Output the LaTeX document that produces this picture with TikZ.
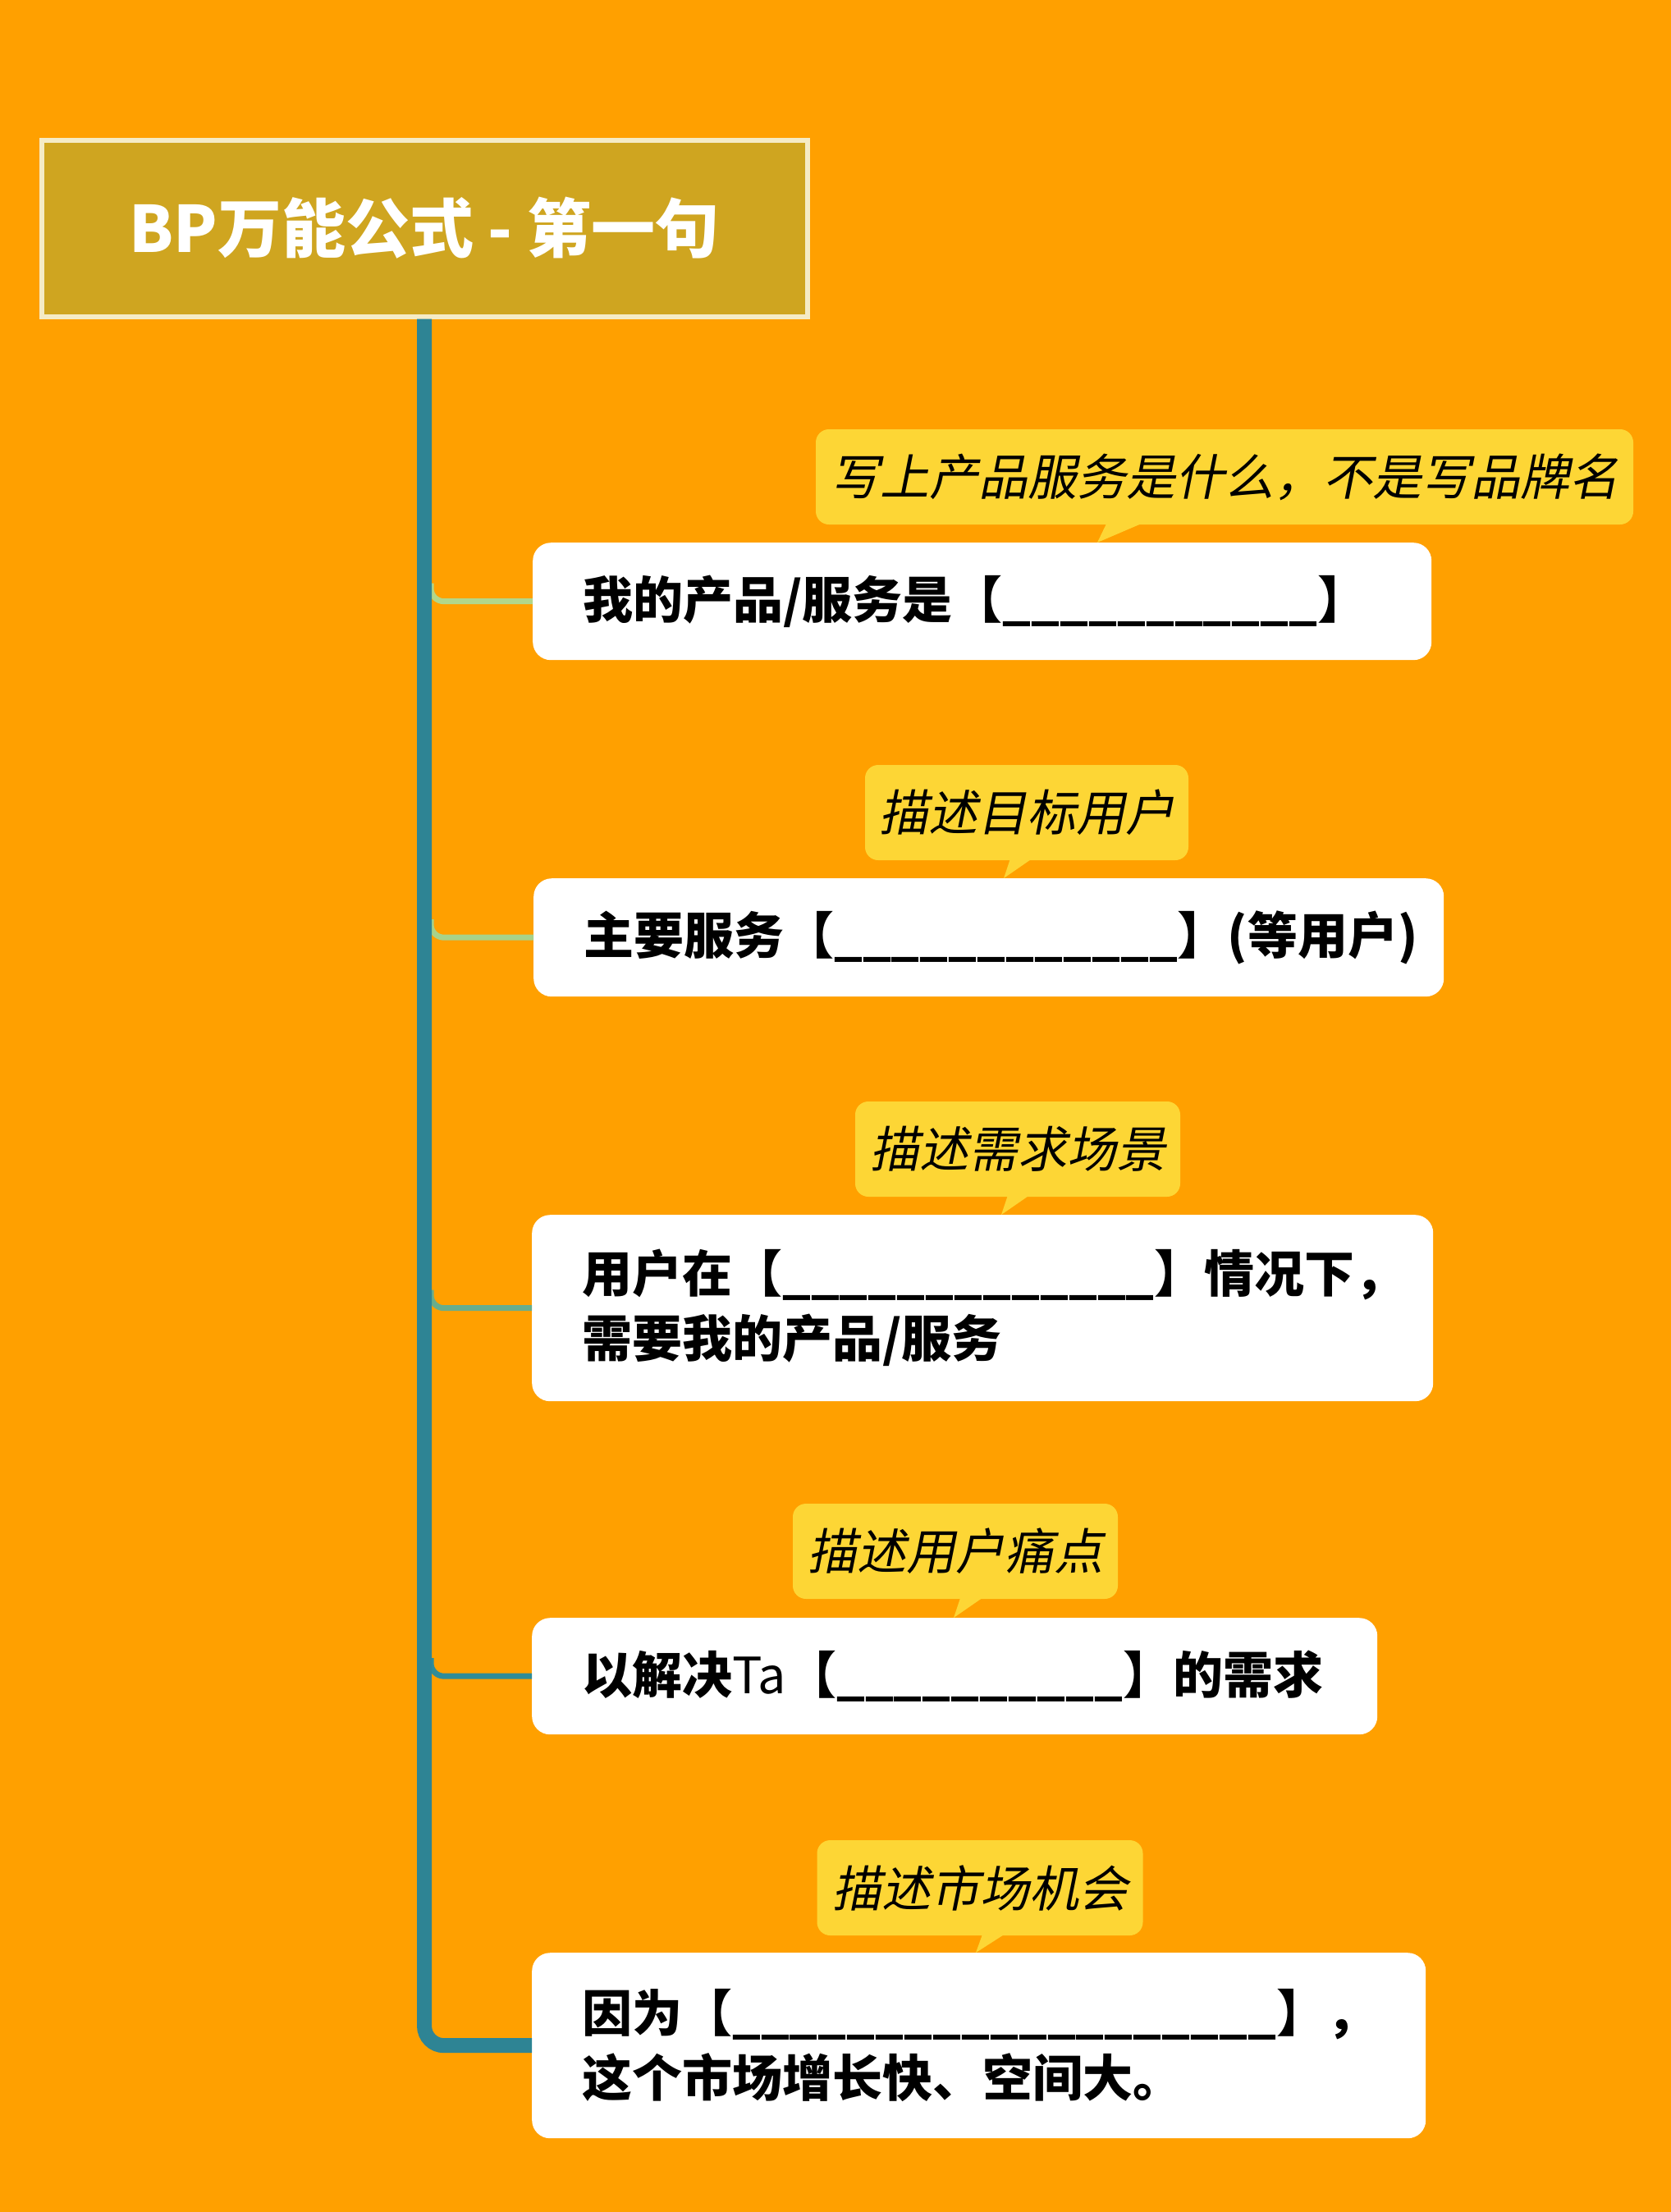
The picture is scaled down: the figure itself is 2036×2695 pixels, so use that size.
\documentclass[tikz,border=0pt]{standalone}
\usepackage{fontspec}
\newfontfamily\cjk{Noto Sans CJK SC}
\newfontfamily\cjkit[FakeSlant=0.2]{Noto Sans CJK SC}
\usepackage{xcolor}
\usepackage{tikz}
\usetikzlibrary{positioning}

\definecolor{bgorange}{HTML}{FFA000}
\definecolor{titlefill}{HTML}{CFA520}
\definecolor{titleborder}{HTML}{F5EBC5}
\definecolor{noteyellow}{HTML}{FDD635}
\definecolor{trunkteal}{HTML}{2E8494}
\definecolor{branchA}{HTML}{B2D78A}
\definecolor{branchB}{HTML}{A8D28A}
\definecolor{branchC}{HTML}{68AD8C}
\definecolor{branchD}{HTML}{2F8C98}

\newcommand{\blanks}[1]{\foreach \i in {1,...,#1}{\_}}

\begin{document}
\begin{tikzpicture}[
    x=1pt, y=-1pt,
    title/.style={draw=titleborder, line width=6pt, fill=titlefill, text=white,
        minimum width=933pt, minimum height=215pt,
        font=\cjk\bfseries\fontsize{78}{90}\selectfont},
    item/.style={fill=white, rounded corners=22pt, anchor=north west, align=left,
        inner xsep=61pt, inner ysep=0pt,
        font=\cjk\bfseries\fontsize{61}{79}\selectfont},
    note/.style={fill=noteyellow, rounded corners=16pt, minimum height=116pt,
        inner xsep=0pt, font=\cjkit\fontsize{60}{70}\selectfont},
    branch/.style={line width=7pt, rounded corners=16pt},
    trunk/.style={draw=trunkteal, line width=18pt, rounded corners=24pt}
]

\fill[bgorange] (0,0) rectangle (2036,2695);
\useasboundingbox (0,0) rectangle (2036,2695);

\node[title] (title) at (517,278) {BP万能公式 - 第一句};

\node[item, text width=973pt, minimum height=143pt] (item1) at (649,661)
    {我的产品/服务是【\blanks{11}】};
\node[item, text width=987pt, minimum height=144pt] (item2) at (650,1070)
    {主要服务【\blanks{12}】(等用户)};
\node[item, text width=976pt, minimum height=227pt] (item3) at (648,1480)
    {用户在【\blanks{13}】情况下，\\需要我的产品/服务};
\node[item, text width=908pt, minimum height=142pt] (item4) at (648,1971)
    {以解决{\mdseries Ta}【\blanks{10}】的需求};
\node[item, text width=967pt, minimum height=226pt] (item5) at (648,2379)
    {因为【\blanks{19}】，\\这个市场增长快、空间大。};

\node[note, minimum width=996pt] (note1) at (1492,581) {写上产品服务是什么，不是写品牌名};
\node[note, minimum width=394pt] (note2) at (1251,990) {描述目标用户};
\node[note, minimum width=396pt] (note3) at (1240,1400) {描述需求场景};
\node[note, minimum width=396pt] (note4) at (1164,1890) {描述用户痛点};
\node[note, minimum width=397pt] (note5) at (1194,2300) {描述市场机会};

% pointers of the notes
\fill[noteyellow] (1337,661) -- (1350,634) -- (1400,634) -- cycle;
\fill[noteyellow] (1223,1070) -- (1232,1043) -- (1262,1043) -- cycle;
\fill[noteyellow] (1220,1480) -- (1229,1453) -- (1259,1453) -- cycle;
\fill[noteyellow] (1162,1971) -- (1171,1944) -- (1201,1944) -- cycle;
\fill[noteyellow] (1189,2379) -- (1198,2354) -- (1228,2354) -- cycle;

\draw[branch, draw=branchA] (title.south |- item1.west) ++(8,-22) |- (item1.west);
\draw[branch, draw=branchB] (title.south |- item2.west) ++(8,-22) |- (item2.west);
\draw[branch, draw=branchC] (title.south |- item3.west) ++(8,-22) |- (item3.west);
\draw[branch, draw=branchD] (title.south |- item4.west) ++(8,-22) |- (item4.west);
\draw[trunk] (title.south) |- (item5.west);

\end{tikzpicture}
\end{document}
